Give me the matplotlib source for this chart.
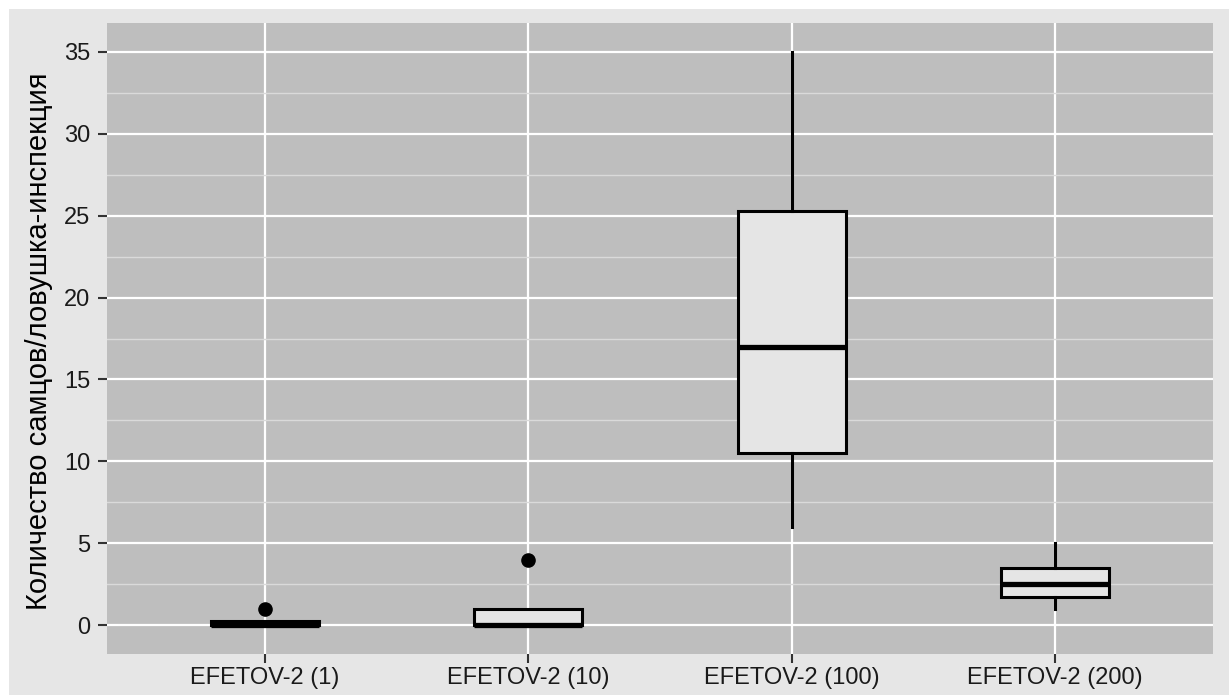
import matplotlib
matplotlib.use("Agg")
import matplotlib.pyplot as plt
from matplotlib.patches import Rectangle

categories = ["EFETOV-2 (1)", "EFETOV-2 (10)", "EFETOV-2 (100)", "EFETOV-2 (200)"]
whislo = [0, 0, 6, 1]
q1 = [0, 0, 10.5, 1.75]
med = [0, 0, 17, 2.55]
q3 = [0.25, 1, 25.3, 3.5]
whishi = [0.25, 1, 35, 5]
fliers = [[1], [4], [], []]
yticks = [0, 5, 10, 15, 20, 25, 30, 35]
ylabel = "Количество самцов/ловушка-инспекция"

plt.rcParams['font.family'] = ['Liberation Sans', 'DejaVu Sans']

W, H = 1229, 695
fig = plt.figure(figsize=(W / 100, H / 100), dpi=100)
fig.patch.set_facecolor("white")
fig.patches.append(Rectangle((9 / W, 0), 1 - 9 / W, 1 - 9 / H, transform=fig.transFigure,
                             facecolor="#e6e6e6", edgecolor="none", zorder=-10))

ax = fig.add_axes([107 / W, 1 - 654 / H, (1213 - 107) / W, (654 - 23) / H])
ax.set_facecolor("#bebebe")

stats = []
for i, c in enumerate(categories):
    stats.append(dict(label=c, whislo=whislo[i], q1=q1[i], med=med[i], q3=q3[i],
                      whishi=whishi[i], fliers=fliers[i]))

positions = list(range(1, len(categories) + 1))
ax.bxp(stats, positions=positions, widths=0.41, patch_artist=True, showcaps=False,
       boxprops=dict(facecolor="#e5e5e5", edgecolor="black", linewidth=2.2),
       medianprops=dict(color="black", linewidth=3.8, solid_capstyle="butt"),
       whiskerprops=dict(color="black", linewidth=2.2),
       flierprops=dict(marker="o", markerfacecolor="black", markeredgecolor="black",
                       markersize=9.5),
       zorder=3)

ax.set_xlim(0.4, len(categories) + 0.6)
ax.set_ylim(-1.75, 36.75)
ax.set_yticks(yticks)
ax.set_yticks([y + 2.5 for y in yticks[:-1]], minor=True)
ax.set_xticks(positions)
ax.set_xticklabels(categories)

ax.grid(True, which="major", color="white", linewidth=1.6, zorder=0)
ax.grid(True, which="minor", axis="y", color="#dadada", linewidth=1.0, zorder=0)
ax.set_axisbelow(True)
for s in ax.spines.values():
    s.set_visible(False)

ax.tick_params(axis="both", which="major", length=6.5, width=1.5, color="#333333",
               labelsize=17, labelcolor="#1a1a1a")
ax.tick_params(axis="y", which="major", pad=5.5)
ax.tick_params(axis="x", which="major", pad=3)
ax.tick_params(axis="both", which="minor", length=0)
ax.set_ylabel(ylabel, fontsize=21, color="black")
ax.yaxis.set_label_coords(-0.049, 0.496)

fig.savefig("out.png", dpi=100, facecolor=fig.get_facecolor())
